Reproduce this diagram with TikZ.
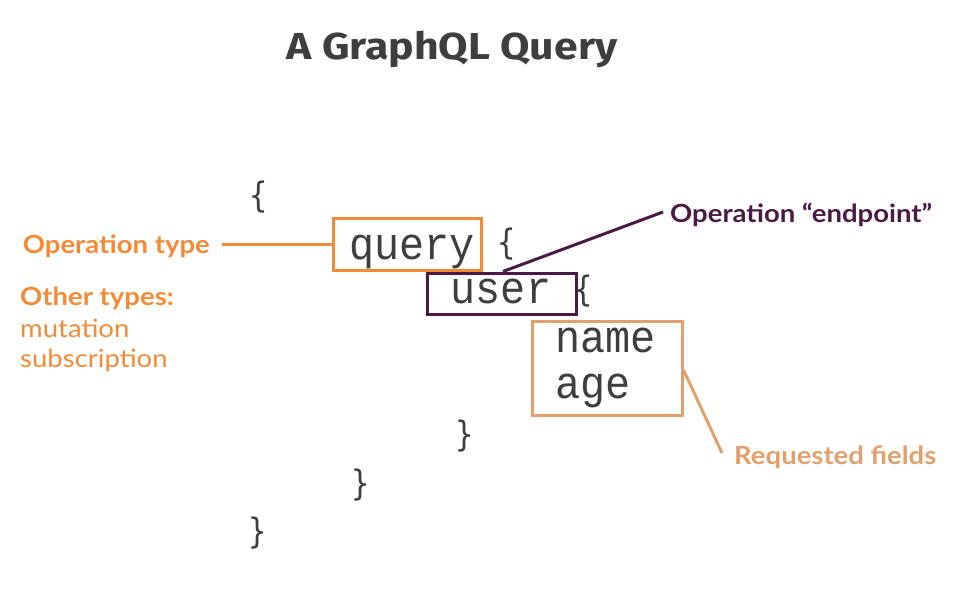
\documentclass[tikz,border=0pt]{standalone}
\usepackage{fontspec}
\setmainfont{Lato}
\newfontfamily\labelfont[FakeStretch=1.1]{Lato}
\newfontfamily\titlefont[FakeStretch=1.14]{Fira Sans}
\newfontfamily\codefont[FakeStretch=0.92]{Liberation Mono}
\newfontfamily\bracefont[FakeStretch=0.87]{DejaVu Sans Mono}
\definecolor{codegray}{HTML}{3E3E3E}
\definecolor{oporange}{HTML}{F58A36}
\definecolor{oppurple}{HTML}{4A1A45}
\definecolor{optan}{HTML}{E2A06C}
\tikzset{
  code/.style={inner sep=0pt, text=codegray, font=\codefont\fontsize{45.5}{45.5}\selectfont, anchor=base},
  brace/.style={inner sep=0pt, text=codegray, font=\bracefont\fontsize{35}{35}\selectfont, anchor=center},
  hbox/.style={draw=#1, line width=3pt, inner sep=0pt},
  lbl/.style={inner sep=0pt, font=\labelfont\fontsize{25}{30}\selectfont\bfseries},
  plain/.style={inner sep=0pt, font=\labelfont\fontsize{25}{30}\selectfont},
  conn/.style={line width=3pt},
}
\begin{document}
\begin{tikzpicture}[x=1pt,y=-1pt]
\useasboundingbox (0,0) rectangle (955,600);
% title
\node[inner sep=0pt, anchor=base, text=codegray, font=\titlefont\fontsize{37.5}{37.5}\selectfont\bfseries] (title) at (452,59) {A GraphQL Query};
% code
\node[brace] (b1) at (259,197) {\{};
\node[code] (q) at (412,259) {query};
\node[brace] (b2) at (507,244) {\{};
\node[code] (u) at (501,303) {user};
\node[brace] (b3) at (584,291) {\{};
\node[code, anchor=base west] (n) at (555,352) {name};
\node[code, anchor=base west] (a) at (555,398) {age};
\node[brace] (c1) at (465,436) {\}};
\node[brace] (c2) at (361,485) {\}};
\node[brace] (c3) at (258,533) {\}};
% boxes
\node[hbox=oporange, minimum width=148pt, minimum height=52pt] (qbox) at (407,244) {};
\node[hbox=oppurple, minimum width=149pt, minimum height=41pt] (ubox) at (502,293.5) {};
\node[hbox=optan, minimum width=150pt, minimum height=94pt] (fbox) at (607,368) {};
% labels
\node[lbl, text=oporange, anchor=base east] (optype) at (210,253) {Operation type};
\node[lbl, text=oporange, anchor=base west] (other) at (20,305) {Other types:};
\node[plain, text=oporange, anchor=base west] (mut) at (20,337) {mutation};
\node[plain, text=oporange, anchor=base west] (sub) at (20,367) {subscription};
\node[lbl, text=oppurple, anchor=base west] (endp) at (670,222) {Operation “endpoint”};
\node[lbl, text=optan, anchor=base west] (req) at (734,464) {Requested fields};
% connectors
\coordinate (optypeend) at (222,244);
\coordinate (endpend) at (663,212);
\coordinate (reqend) at (722,453);
\draw[conn, oporange] (optypeend) -- (qbox.west);
\draw[conn, oppurple] (ubox.north) ++(1,0) coordinate (unorth) (unorth) -- (endpend);
\draw[conn, optan] (fbox.east) ++(0,2) coordinate (feast) (feast) -- (reqend);
\end{tikzpicture}
\end{document}
